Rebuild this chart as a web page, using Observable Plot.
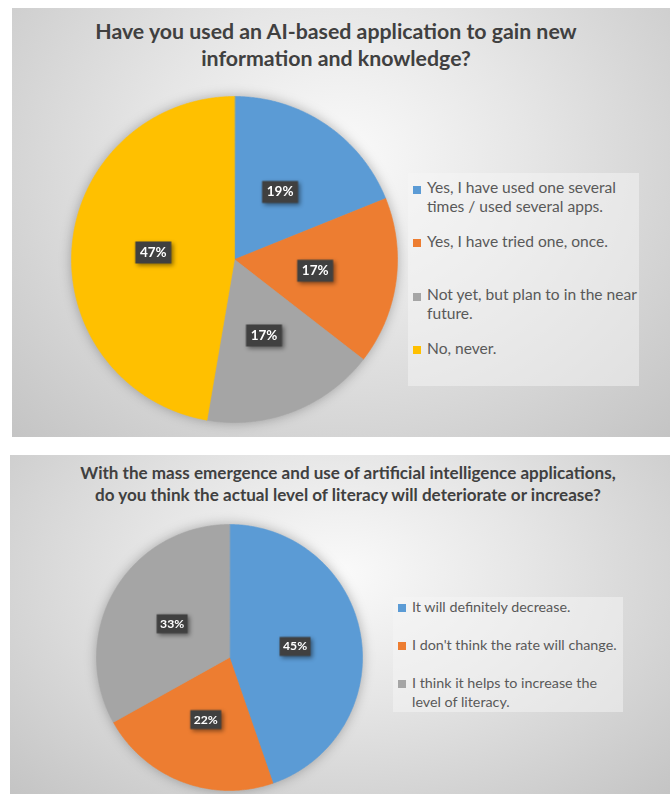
<!DOCTYPE html>
<html>
<head>
<meta charset="utf-8">
<script src="https://cdn.jsdelivr.net/npm/d3@7"></script>
<script src="https://cdn.jsdelivr.net/npm/@observablehq/plot@0.6"></script>
<style>
  html, body { margin: 0; padding: 0; background: #ffffff; }
  body { width: 670px; height: 794px; position: relative; overflow: hidden; font-family: Lato, "Open Sans", sans-serif; }
  .panel { position: absolute; overflow: hidden;
    background: radial-gradient(ellipse farthest-corner at 50% 35%, #fafafa 0%, #e6e6e6 40%, #c4c4c4 100%); }
  .panel svg { position: absolute; left: 0; top: 0; }
  .tline { position: absolute; width: 1000px; text-align: center; white-space: nowrap; font-weight: 700; color: #404040; line-height: 1.2; }
  .legend { position: absolute; background: rgba(246,246,246,0.5); }
  .item { position: absolute; color: #595959; }
  .sw { position: absolute; width: 8px; height: 8px; }
</style>
</head>
<body>
<div id="p1" class="panel" style="left:12px; top:8px; width:658px; height:429px;"></div>
<div id="p2" class="panel" style="left:10px; top:455px; width:660px; height:339px;"></div>
<script>
// ---------- data ----------
const q1Title = ["Have you used an AI-based application to gain new", "information and knowledge?"];
const q1Categories = [
  "Yes, I have used one several times / used several apps.",
  "Yes, I have tried one, once.",
  "Not yet, but plan to in the near future.",
  "No, never."
];
const q1Values = [18.9, 16.6, 17.2, 47.3];

const q2Title = ["With the mass emergence and use of artificial intelligence applications,", "do you think the actual level of literacy will deteriorate or increase?"];
const q2Categories = [
  "It will definitely decrease.",
  "I don't think the rate will change.",
  "I think it helps to increase the level of literacy."
];
const q2Values = [44.7, 22.2, 33.1];

const palette = ["#5B9BD5", "#ED7D31", "#A5A5A5", "#FFC000"];

// ---------- helpers ----------
const ctx = document.createElement("canvas").getContext("2d");
function fitSize(text, weight, target) {
  ctx.font = `${weight} 100px Lato`;
  return 100 * target / ctx.measureText(text).width;
}

function pieGeometry(cats, vals) {
  const rows = cats.map((c, i) => ({cat: c, v: vals[i]}));
  const arcs = d3.pie().sort(null).value(d => d.v)(rows);
  const pts = [];
  const labels = [];
  arcs.forEach(a => {
    const cat = a.data.cat;
    pts.push({cat, x: 0, y: 0});
    const n = Math.max(2, Math.ceil((a.endAngle - a.startAngle) / (Math.PI / 360)));
    for (let k = 0; k <= n; k++) {
      const t = a.startAngle + (a.endAngle - a.startAngle) * k / n;
      pts.push({cat, x: Math.sin(t), y: Math.cos(t)});
    }
    const mid = (a.startAngle + a.endAngle) / 2;
    labels.push({cat, x: 0.5 * Math.sin(mid), y: 0.5 * Math.cos(mid), label: Math.round(a.data.v) + "%"});
  });
  return {pts, labels};
}

function boxSymbol(w, h) {
  return {draw(c) { c.moveTo(-w/2, -h/2); c.lineTo(w/2, -h/2); c.lineTo(w/2, h/2); c.lineTo(-w/2, h/2); c.closePath(); }};
}

function drawPanel(panel, opt) {
  const {pts, labels} = pieGeometry(opt.cats, opt.vals);
  const chart = Plot.plot({
    width: opt.width, height: opt.height,
    marginLeft: opt.m[0], marginRight: opt.m[1], marginTop: opt.m[2], marginBottom: opt.m[3],
    x: {domain: [-1, 1], axis: null},
    y: {domain: [-1, 1], axis: null},
    color: {domain: opt.cats, range: palette.slice(0, opt.cats.length)},
    style: {background: "transparent", overflow: "visible"},
    marks: [
      Plot.line(pts, {x: "x", y: "y", z: "cat", fill: "cat", stroke: "cat", strokeWidth: 0.6, curve: "linear-closed"}),
      Plot.dot(labels, {x: "x", y: "y", symbol: boxSymbol(opt.box[0], opt.box[1]), fill: "#404040", stroke: null, r: 5}),
      Plot.text(labels, {x: "x", y: "y", text: "label", fill: "white", fontWeight: "bold", fontSize: opt.labelSize, fontFamily: "Lato"})
    ]
  });
  const lineG = chart.querySelector('g[aria-label="line"]');
  if (lineG) lineG.style.filter = "drop-shadow(0px 0px 6px rgba(0,0,0,0.28))";
  const dotG = chart.querySelector('g[aria-label="dot"]');
  if (dotG) dotG.style.filter = "drop-shadow(2px 2px 2px rgba(0,0,0,0.45))";
  panel.appendChild(chart);

  // title
  const tfs = fitSize(opt.title[0], 700, opt.titleWidth);
  opt.title.forEach((t, i) => {
    const d = document.createElement("div");
    d.className = "tline";
    d.textContent = t;
    d.style.fontSize = tfs + "px";
    d.style.left = (opt.titleCenter - 500) + "px";
    d.style.top = (opt.titleBase[i] - 0.987 * tfs) + "px";
    panel.appendChild(d);
  });

  // legend
  const lg = opt.legend;
  const box = document.createElement("div");
  box.className = "legend";
  Object.assign(box.style, {left: lg.left + "px", top: lg.top + "px", width: lg.w + "px", height: lg.h + "px"});
  const lfs = fitSize(lg.ref, 400, lg.refWidth);
  const L = lg.lineHeight;
  const baseOff = (L - 1.2 * lfs) / 2 + 0.987 * lfs;
  opt.cats.forEach((c, i) => {
    const base = lg.first + i * lg.slot;
    const sw = document.createElement("div");
    sw.className = "sw";
    Object.assign(sw.style, {left: lg.swX + "px", top: (base - 8.5) + "px", background: palette[i]});
    box.appendChild(sw);
    const it = document.createElement("div");
    it.className = "item";
    it.textContent = c;
    Object.assign(it.style, {left: lg.textX + "px", top: (base - baseOff) + "px", width: lg.textW + "px",
      fontSize: lfs + "px", lineHeight: L + "px"});
    box.appendChild(it);
  });
  panel.appendChild(box);
}

drawPanel(document.getElementById("p1"), {
  cats: q1Categories, vals: q1Values, title: q1Title,
  width: 658, height: 429, m: [59, 273, 88, 15],
  box: [36, 22], labelSize: 13.5,
  titleWidth: 483, titleCenter: 324, titleBase: [32, 59],
  legend: {left: 396, top: 165, w: 231, h: 213, swX: 5, textX: 19, textW: 216,
    first: 21, slot: 53.5, lineHeight: 19, ref: "Yes, I have used one several", refWidth: 189}
});

drawPanel(document.getElementById("p2"), {
  cats: q2Categories, vals: q2Values, title: q2Title,
  width: 660, height: 339, m: [86, 308, 69, 4],
  box: [31, 19], labelSize: 12.2,
  titleWidth: 536, titleCenter: 338, titleBase: [25, 47],
  legend: {left: 383, top: 142, w: 230, h: 115, swX: 5, textX: 19, textW: 209,
    first: 15, slot: 38, lineHeight: 19, ref: "I don't think the rate will change.", refWidth: 205}
});
</script>
</body>
</html>
